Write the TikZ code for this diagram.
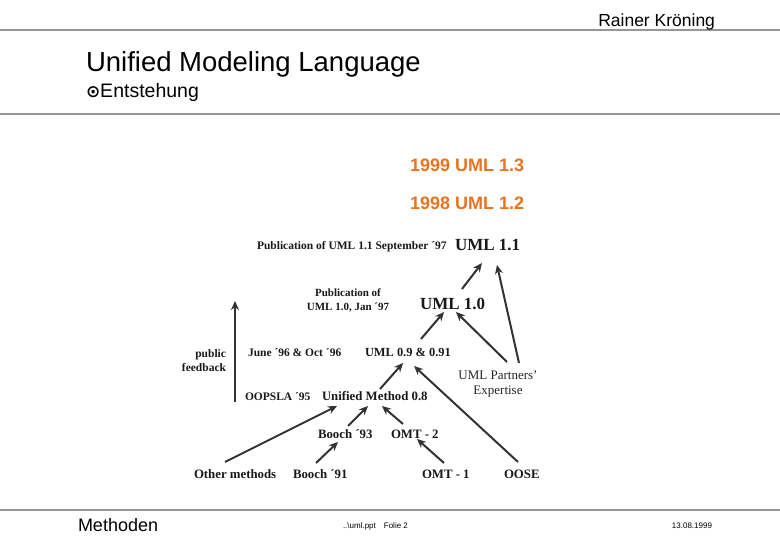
\documentclass[tikz,border=0pt]{standalone}
\usepackage{fontspec}
\setmainfont{Liberation Serif}
\newfontfamily\arial{Liberation Sans}
\newfontfamily\dejavu{DejaVu Sans}
\usetikzlibrary{arrows.meta}
\definecolor{umlorange}{RGB}{232,116,34}
\definecolor{arrowgray}{RGB}{50,50,50}
\definecolor{rulegray}{RGB}{150,150,150}
\begin{document}
\begin{tikzpicture}[x=1pt,y=-1pt,
  lbl/.style={inner sep=0pt,outer sep=0pt,font=\fontsize{11.5}{13}\selectfont\bfseries,text=black!90},
  big/.style={inner sep=0pt,outer sep=0pt,font=\fontsize{17}{19}\selectfont\bfseries,text=black!90},
  mid/.style={inner sep=0pt,outer sep=0pt,font=\fontsize{12.8}{14}\selectfont\bfseries,text=black!90},
  orange/.style={inner sep=0pt,outer sep=0pt,font=\arial\fontsize{18}{20}\selectfont\bfseries,text=umlorange},
  hdr/.style={inner sep=0pt,outer sep=0pt,font=\arial,text=black},
  rule/.style={draw=rulegray,line width=2pt},
  conn/.style={draw=arrowgray,line width=2pt,-{Stealth[length=9pt,width=8pt]}}]
\useasboundingbox (0,0) rectangle (780,540);
\fill[white] (0,0) rectangle (780,540);
% header / footer
\coordinate (r1a) at (0,30); \coordinate (r1b) at (780,30);
\coordinate (r2a) at (0,114); \coordinate (r2b) at (780,114);
\coordinate (r3a) at (0,510); \coordinate (r3b) at (780,510);
\draw[rule] (r1a) -- (r1b);
\draw[rule] (r2a) -- (r2b);
\draw[rule] (r3a) -- (r3b);
\node[hdr,anchor=base east,font=\arial\fontsize{17.5}{19}\selectfont] (author) at (715,27) {Rainer Kröning};
\node[hdr,anchor=base west,font=\arial\fontsize{27.5}{29}\selectfont] (title) at (86,72) {Unified Modeling Language};
\node[hdr,anchor=base west,font=\arial\fontsize{19.5}{21}\selectfont] (sub) at (86,98) {{\dejavu\fontsize{17}{19}\selectfont\bfseries ⊙}Entstehung};
\node[hdr,anchor=base west,font=\arial\fontsize{18}{20}\selectfont] (foot) at (78,531) {Methoden};
\node[hdr,anchor=base west,font=\arial\fontsize{8}{9}\selectfont] (file) at (343,528) {..\textbackslash uml.ppt\quad Folie 2};
\node[hdr,anchor=base east,font=\arial\fontsize{8}{9}\selectfont] (date) at (712,528) {13.08.1999};
% diagram
\node[orange,anchor=base west] (u13) at (410,172) {1999 UML 1.3};
\node[orange,anchor=base west] (u12) at (410,210) {1998 UML 1.2};
\node[lbl,anchor=base west] (pub11) at (257,250) {Publication of UML 1.1 September ´97};
\node[big,anchor=base west] (u11) at (455,251) {UML 1.1};
\node[lbl,align=center,anchor=base,font=\fontsize{11}{14}\selectfont\bfseries] (pub10) at (348,311) {Publication of\\UML 1.0, Jan ´97};
\node[big,anchor=base west] (u10) at (420,310) {UML 1.0};
\node[lbl,anchor=base west] (june) at (248,356) {June ´96 \& Oct ´96};
\node[mid,anchor=base west,font=\fontsize{12.4}{14}\selectfont\bfseries] (u09) at (365,357) {UML 0.9 \& 0.91};
\node[lbl,align=right,anchor=base east,font=\fontsize{11.5}{14}\selectfont\bfseries] (feedback) at (226,372) {public\\feedback};
\node[inner sep=0pt,align=center,anchor=base,font=\fontsize{13}{15}\selectfont,text=black!85] (partners) at (498,395) {UML Partners’\\Expertise};
\node[lbl,anchor=base west] (oopsla) at (245,400) {OOPSLA ´95};
\node[mid,anchor=base west] (um08) at (322,400) {Unified Method 0.8};
\node[mid,anchor=base west] (b93) at (318,438) {Booch ´93};
\node[mid,anchor=base west] (omt2) at (391,438) {OMT - 2};
\node[mid,anchor=base west] (other) at (194,478) {Other methods};
\node[mid,anchor=base west] (b91) at (293,478) {Booch ´91};
\node[mid,anchor=base west] (omt1) at (422,478) {OMT - 1};
\node[mid,anchor=base west] (oose) at (504,478) {OOSE};
% connector end points
\coordinate (fbs) at (235,402); \coordinate (fbe) at (235,301);
\coordinate (a1s) at (462,289); \coordinate (a1e) at (482,263);
\coordinate (a2s) at (519,363); \coordinate (a2e) at (497,265);
\coordinate (a3s) at (507,362); \coordinate (a3e) at (456,312);
\coordinate (a4s) at (421,339); \coordinate (a4e) at (444,312);
\coordinate (a5s) at (380,389); \coordinate (a5e) at (403,363);
\coordinate (a6s) at (518,462); \coordinate (a6e) at (414,366);
\coordinate (a7s) at (225,462); \coordinate (a7e) at (337,406);
\coordinate (a8s) at (348,426); \coordinate (a8e) at (368,406);
\coordinate (a9s) at (403,424); \coordinate (a9e) at (382,406);
\coordinate (b1s) at (316,463); \coordinate (b1e) at (338,442);
\coordinate (b2s) at (444,463); \coordinate (b2e) at (417,439);
\draw[conn] (fbs) -- (fbe);
\draw[conn] (a1s) -- (a1e);
\draw[conn] (a2s) -- (a2e);
\draw[conn] (a3s) -- (a3e);
\draw[conn] (a4s) -- (a4e);
\draw[conn] (a5s) -- (a5e);
\draw[conn] (a6s) -- (a6e);
\draw[conn] (a7s) -- (a7e);
\draw[conn] (a8s) -- (a8e);
\draw[conn] (a9s) -- (a9e);
\draw[conn] (b1s) -- (b1e);
\draw[conn] (b2s) -- (b2e);
\end{tikzpicture}
\end{document}
